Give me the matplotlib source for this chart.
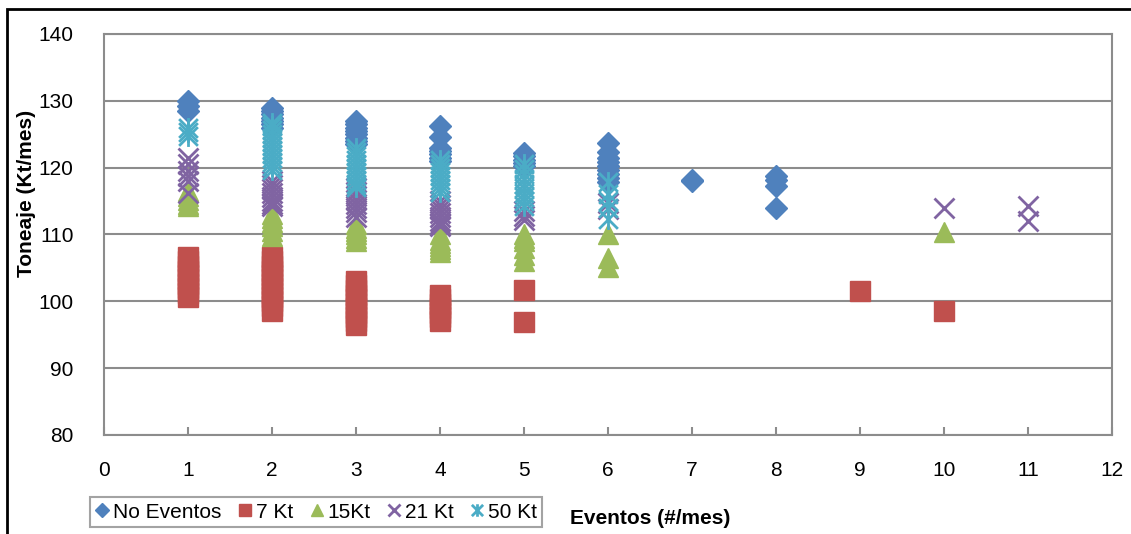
import matplotlib
matplotlib.use("Agg")
import matplotlib.pyplot as plt
from matplotlib.path import Path
from matplotlib.patches import Rectangle

plt.rcParams.update({
    "font.family": ["Liberation Sans", "DejaVu Sans"],
    "font.size": 15,
})

# --- data ---
no_eventos_x = [1, 1, 1,
                2, 2, 2, 2, 2, 2, 2,
                3, 3, 3, 3, 3, 3, 3, 3,
                4, 4, 4, 4, 4, 4, 4,
                5, 5, 5, 5, 5,
                6, 6, 6, 6, 6, 6, 6, 6, 6,
                7, 7,
                8, 8, 8, 8]
no_eventos_y = [130, 129.2, 128.5,
                129, 128.5, 128, 127.5, 127, 126.5, 126,
                127, 126.5, 126, 125.5, 125, 124.5, 124, 123.5,
                126.3, 124.6, 123, 122.5, 122, 121.5, 121,
                122.2, 121.7, 121.2, 120.7, 120.2,
                123.7, 122.3, 121.5, 120.8, 120.2, 119.6, 119, 118.4, 117.8,
                118.2, 118,
                118.8, 118.2, 117.2, 114]

kt7_x = [1, 1, 1, 1, 1, 1, 1, 1, 1, 1,
         2, 2, 2, 2, 2, 2, 2, 2, 2, 2, 2, 2, 2,
         3, 3, 3, 3, 3, 3, 3, 3, 3, 3, 3,
         4, 4, 4, 4, 4, 4, 4,
         5, 5,
         9,
         10]
kt7_y = [106.7, 106, 105.3, 104.6, 104, 103.3, 102.6, 102, 101.3, 100.7,
         106.7, 106, 105.3, 104.6, 104, 103.3, 102.6, 102, 101.3, 100.6, 100, 99.3, 98.6,
         103.1, 102.4, 101.7, 101, 100.3, 99.6, 99, 98.3, 97.6, 97, 96.5,
         101, 100.3, 99.6, 99, 98.3, 97.6, 97.1,
         101.7, 96.9,
         101.5,
         98.5]

kt15_x = [1, 1, 1, 1, 1,
          2, 2, 2, 2, 2, 2,
          3, 3, 3, 3, 3, 3,
          4, 4, 4, 4, 4, 4,
          5, 5, 5, 5, 5, 5,
          6, 6, 6,
          10]
kt15_y = [116.5, 115.8, 115.2, 114.6, 114.2,
          113, 112.4, 111.8, 111.2, 110.5, 109.8,
          111.5, 111, 110.5, 110, 109.5, 109,
          110, 109.2, 108.8, 108.3, 107.8, 107.4,
          110, 109.5, 109, 108, 107, 106,
          110, 106.5, 105.2,
          110.4]

kt21_x = [1, 1, 1, 1, 1, 1,
          2, 2, 2, 2, 2, 2, 2, 2,
          3, 3, 3, 3, 3, 3, 3, 3,
          4, 4, 4, 4, 4, 4, 4, 4,
          5, 5, 5,
          6, 6,
          10,
          11, 11]
kt21_y = [121.5, 120.5, 119.5, 118.8, 118, 116.2,
          118, 117.4, 116.8, 116.2, 115.6, 115, 114.5, 114.2,
          117, 116.4, 115.8, 115.2, 114.6, 114, 113.4, 112.6,
          115, 114.4, 113.8, 113.2, 112.6, 112, 111.6, 111.2,
          113.5, 112.8, 112.2,
          114.7, 113.8,
          114,
          114.3, 112]

kt50_x = [1, 1, 1,
          2, 2, 2, 2, 2, 2, 2, 2, 2, 2, 2, 2, 2,
          3, 3, 3, 3, 3, 3, 3, 3, 3, 3, 3,
          4, 4, 4, 4, 4, 4, 4, 4, 4,
          5, 5, 5, 5, 5, 5, 5, 5, 5, 5,
          6, 6, 6, 6, 6]
kt50_y = [126, 125.3, 124.7,
          126.7, 126.2, 125.6, 125, 124.4, 123.8, 123.2, 122.6, 122, 121.4, 120.8, 120.2, 119.6,
          123, 122.4, 121.8, 121.2, 120.6, 120, 119.4, 118.8, 118.2, 117.6, 117.1,
          121.2, 120.6, 120, 119.4, 118.8, 118.2, 117.6, 117, 116.3,
          120.5, 119.8, 119, 118.3, 117.6, 116.9, 116.2, 115.6, 115, 114.2,
          117.8, 116, 115, 114, 112.3]

x_ticks = list(range(0, 13))
y_ticks = list(range(80, 141, 10))

# excel style asterisk: X plus a vertical bar
star = Path([(0, -1), (0, 1), (-0.9, -0.9), (0.9, 0.9), (-0.9, 0.9), (0.9, -0.9)],
            [Path.MOVETO, Path.LINETO, Path.MOVETO, Path.LINETO, Path.MOVETO, Path.LINETO])

fig = plt.figure(figsize=(11.31, 5.34), dpi=100)
ax = fig.add_axes([104 / 1131, 1 - 435 / 534, (1112 - 104) / 1131, (435 - 34) / 534])

ax.plot(no_eventos_x, no_eventos_y, ls='none', marker='D', ms=11.5, color='#4F81BD',
        mec='#4F81BD', label='No Eventos')
ax.plot(kt7_x, kt7_y, ls='none', marker='s', ms=14.5, color='#C0504D',
        mec='#C0504D', label='7 Kt')
ax.plot(kt15_x, kt15_y, ls='none', marker='^', ms=15, color='#9BBB59',
        mec='#9BBB59', label='15Kt')
ax.plot(kt21_x, kt21_y, ls='none', marker='x', ms=14, mew=2, color='#8064A2',
        label='21 Kt')
ax.plot(kt50_x, kt50_y, ls='none', marker=star, ms=15, mew=2, color='#4BACC6',
        mfc='none', label='50 Kt')

ax.set_xlim(0, 12)
ax.set_ylim(80, 140)
ax.set_xticks(x_ticks)
ax.set_yticks(y_ticks)
ax.grid(axis='y', color='#8c8c8c', lw=1.5)
ax.set_axisbelow(True)
for s in ax.spines.values():
    s.set_color('#8c8c8c')
    s.set_linewidth(1.5)
ax.tick_params(axis='x', direction='in', length=6, width=1.5, color='#8c8c8c', pad=19)
ax.tick_params(axis='y', length=0, pad=22)

fig.text(27 / 1131, 1 - 193 / 534, 'Toneaje (Kt/mes)', rotation=90, ha='center', va='center',
         fontweight='bold', fontsize=15)
fig.text(650 / 1131, 16 / 534, 'Eventos (#/mes)', ha='center', va='center',
         fontweight='bold', fontsize=15)

leg = fig.legend(loc='center', bbox_to_anchor=(316 / 1131, 22 / 534), ncol=5,
                 markerscale=0.6, handlelength=0.7, handletextpad=0.15,
                 columnspacing=0.8, borderpad=0.25, fancybox=False, fontsize=15)
leg.get_frame().set_edgecolor('#8c8c8c')
leg.get_frame().set_linewidth(1.5)

# black outer chart border (cropped right/bottom)
fig.patches.append(Rectangle((7 / 1131, -0.1), 1.2, 1 - 9 / 534 + 0.1, transform=fig.transFigure,
                             fill=False, ec='black', lw=2))

fig.savefig('out.png', dpi=100)
